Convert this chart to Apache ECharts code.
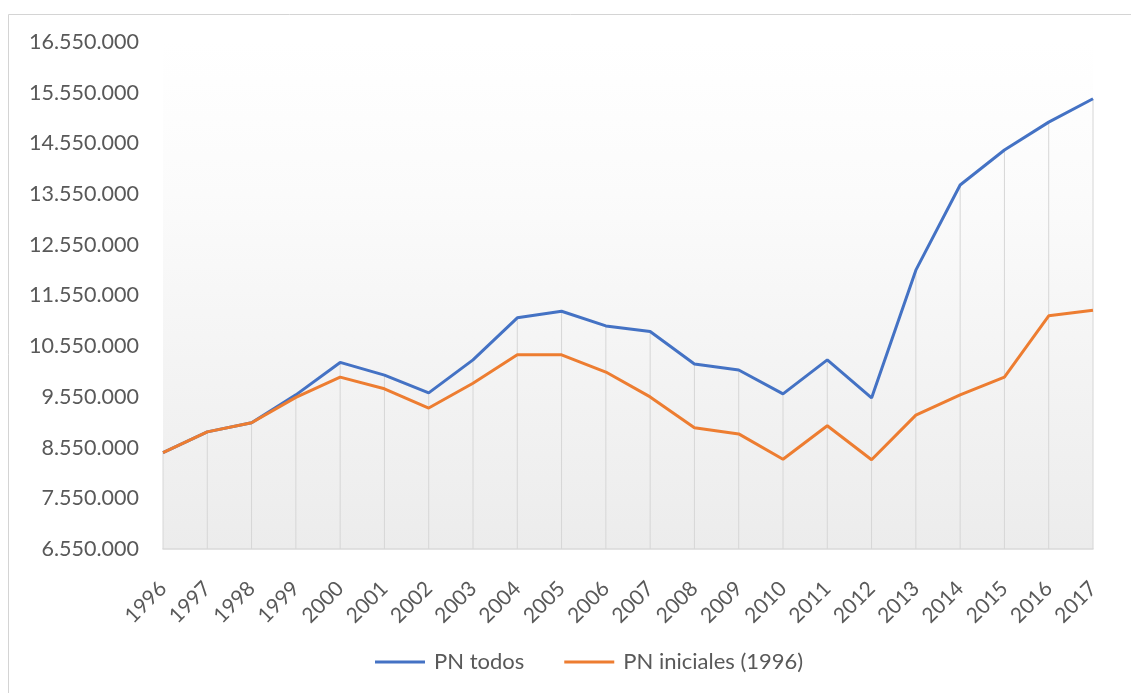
<!DOCTYPE html>
<html>
<head>
<meta charset="utf-8">
<script src="https://cdn.jsdelivr.net/npm/echarts@6/dist/echarts.min.js"></script>
<style>
  html, body { margin: 0; padding: 0; background: #fff; }
  #main { width: 1131px; height: 693px; }
</style>
</head>
<body>
<div id="main"></div>
<script>
var myChart = echarts.init(document.getElementById('main'));

var years = ['1996', '1997', '1998', '1999', '2000', '2001', '2002', '2003', '2004', '2005', '2006',
    '2007', '2008', '2009', '2010', '2011', '2012', '2013', '2014', '2015', '2016', '2017'];
var pnTodos = [8450000, 8860000, 9040000, 9590000, 10230000, 9980000, 9630000, 10280000, 11110000, 11240000, 10950000,
    10840000, 10200000, 10080000, 9610000, 10280000, 9530000, 12050000, 13730000, 14420000, 14970000, 15430000];
var pnIniciales = [8450000, 8860000, 9040000, 9540000, 9940000, 9710000, 9330000, 9820000, 10380000, 10380000, 10040000,
    9550000, 8940000, 8820000, 8320000, 8980000, 8310000, 9190000, 9590000, 9940000, 11150000, 11260000];

var yMin = 6550000;
var yMax = 16550000;
var fontFam = 'Lato, "Open Sans", sans-serif';

// miles con punto
var fmt = function (v) {
    return String(Math.round(v)).replace(/\B(?=(\d{3})+(?!\d))/g, '.');
};

option = {
    backgroundColor: '#fff',
    animation: false,
    graphic: [{
        type: 'rect',
        shape: { x: 8.5, y: 14.5, width: 1200, height: 800 },
        style: { fill: 'none', stroke: '#d4d4d4', lineWidth: 1 },
        z: -10
    }],
    legend: {
        bottom: 15,
        left: 370,
        itemWidth: 50,
        itemHeight: 3,
        itemGap: 40,
        textStyle: { color: '#595959', fontSize: 22, fontFamily: fontFam, padding: [0, 0, 0, 4] },
        data: [
            { name: 'PN todos', icon: 'rect' },
            { name: 'PN iniciales (1996)', icon: 'rect' }
        ]
    },
    grid: {
        left: 163,
        right: 38,
        top: 42,
        bottom: 144,
        show: true,
        borderWidth: 0,
        backgroundColor: {
            type: 'linear', x: 0, y: 0, x2: 0, y2: 1,
            colorStops: [
                { offset: 0, color: '#ffffff' },
                { offset: 0.3, color: '#fbfbfb' },
                { offset: 1, color: '#ececec' }
            ]
        }
    },
    xAxis: {
        type: 'category',
        data: years,
        boundaryGap: false,
        axisLine: { lineStyle: { color: '#d9d9d9', width: 1.5 } },
        axisTick: { show: false },
        axisLabel: {
            rotate: 45,
            color: '#595959',
            fontSize: 21,
            fontFamily: fontFam,
            margin: 36,
            interval: 0
        }
    },
    yAxis: {
        type: 'value',
        min: yMin,
        max: yMax,
        interval: 1000000,
        axisLine: { show: false },
        axisTick: { show: false },
        splitLine: { show: false },
        axisLabel: {
            color: '#595959',
            fontSize: 21.5,
            fontFamily: fontFam,
            margin: 24,
            formatter: fmt
        }
    },
    series: [
        {
            // lineas de caida
            name: 'drop',
            type: 'custom',
            silent: true,
            data: pnTodos.map(function (v, i) { return [i, v]; }),
            renderItem: function (params, api) {
                var top = api.coord([api.value(0), api.value(1)]);
                var bot = api.coord([api.value(0), yMin]);
                return {
                    type: 'line',
                    shape: { x1: top[0], y1: top[1], x2: bot[0], y2: bot[1] },
                    style: { stroke: '#d6d6d6', lineWidth: 1 }
                };
            },
            z: 1
        },
        {
            name: 'PN todos',
            type: 'line',
            data: pnTodos,
            symbol: 'none',
            lineStyle: { color: '#4472c4', width: 3 },
            itemStyle: { color: '#4472c4' },
            z: 3
        },
        {
            name: 'PN iniciales (1996)',
            type: 'line',
            data: pnIniciales,
            symbol: 'none',
            lineStyle: { color: '#ed7d31', width: 3 },
            itemStyle: { color: '#ed7d31' },
            z: 4
        }
    ]
};

myChart.setOption(option);
</script>
</body>
</html>
